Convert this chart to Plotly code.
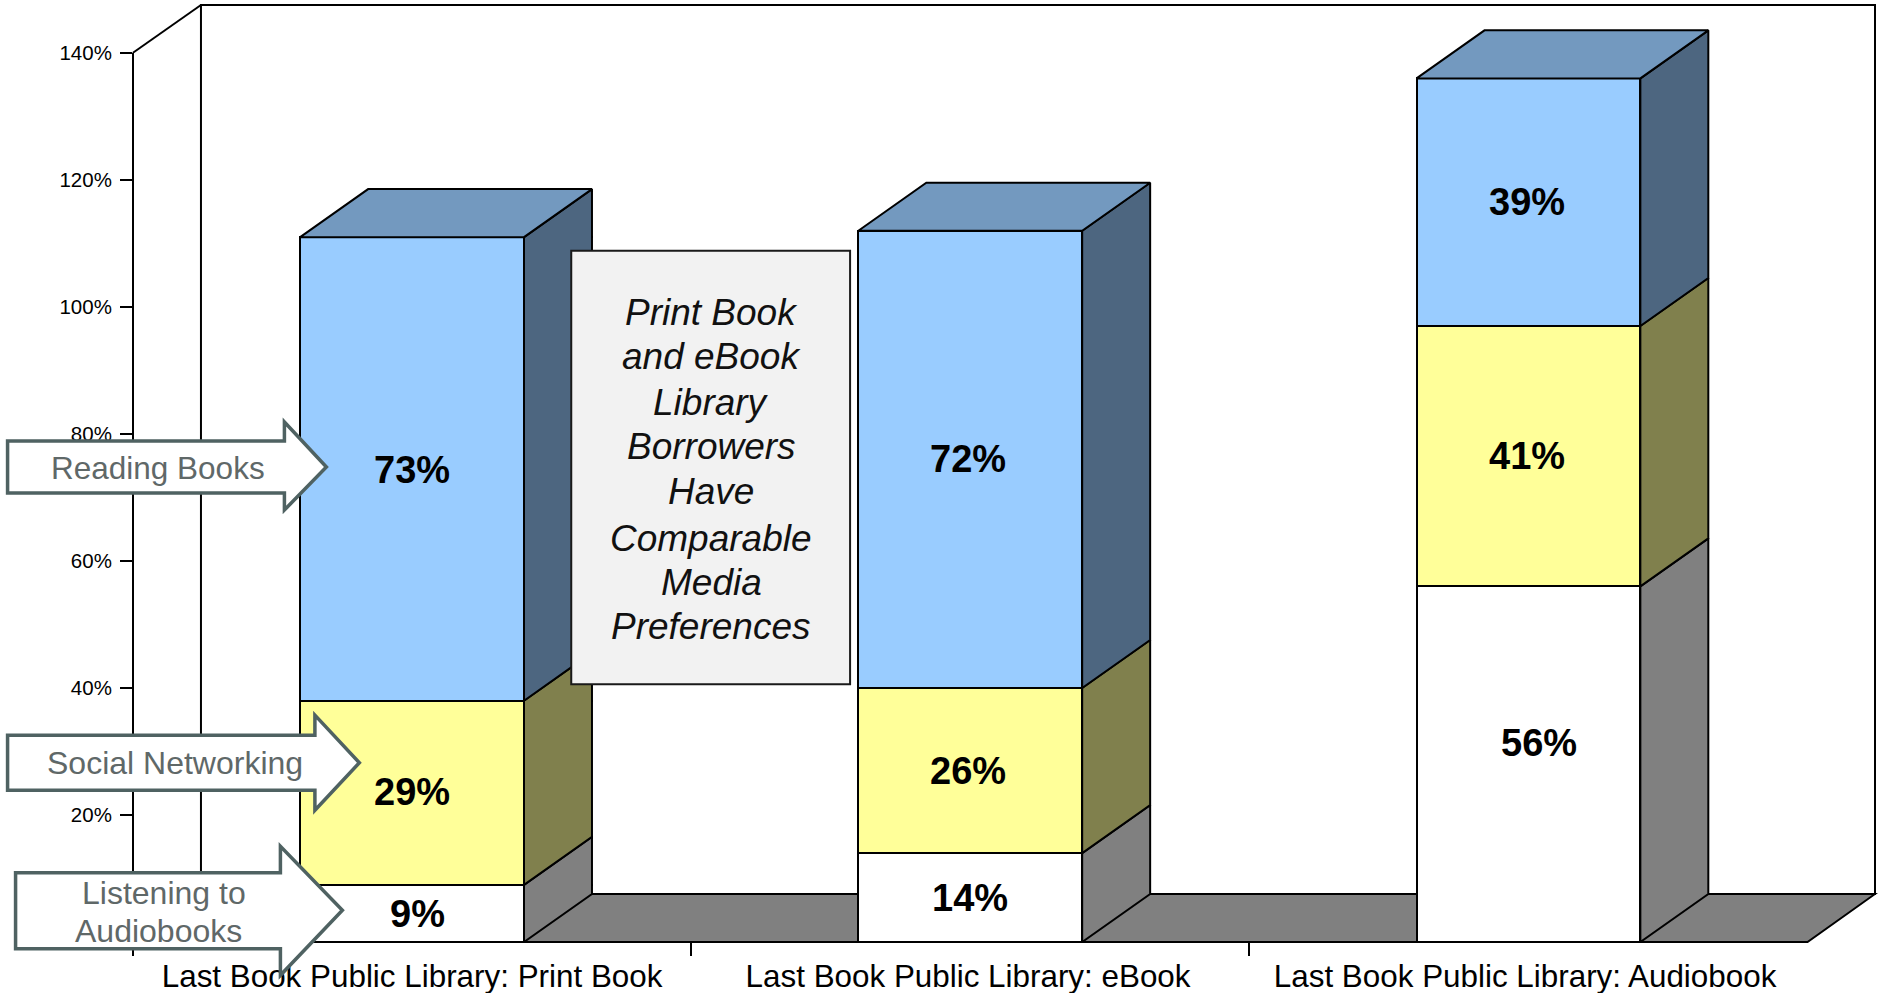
import plotly.graph_objects as go

categories = ["Last Book Public Library: Print Book",
              "Last Book Public Library: eBook",
              "Last Book Public Library: Audiobook"]
audiobooks = [9, 14, 56]
social = [29, 26, 41]
reading = [73, 72, 39]
y_ticks = [20, 40, 60, 80, 100, 120, 140]
y_ticktext = ["20%", "40%", "60%", "80%", "100%", "120%", "140%"]
series = [("Listening", audiobooks, "#FFFFFF", "#808080"),
          ("Social", social, "#FFFF99", "#80804D"),
          ("Reading", reading, "#99CCFF", "#4D6680")]
top_color = "#7399BF"
note_lines = ["Print Book", "and eBook", "Library", "Borrowers", "Have",
              "Comparable", "Media", "Preferences"]
# small hand-placed shifts of the value labels, in pixels: (bar, segment): (x, y)
label_nudge = {(0, 0): (5, 1), (2, 0): (11, -21), (0, 2): (0, 1), (0, 1): (0, -1),
               (1, 1): (-2, 0), (1, 2): (-2, 0), (2, 1): (-1, 0), (2, 2): (-1, 0)}

W, H = 1878, 993
L, R, T, B = 132.5, 1875.5, 5.3, 941.7
CAT = 558.5
BAR_W = 0.401
DX = 68 / CAT
Y_MAX = 147.56
DY = 48 / ((B - T) / Y_MAX)
FONT = "Liberation Sans"
BLACK = "#000000"


def px(x):
    return (x - L) / (R - L)


def py(y):
    return (B - y) / (B - T)


def poly(points):
    return "M " + " L ".join(f"{px(x):.5f},{py(y):.5f}" for x, y in points) + " Z"


fig = go.Figure()
base = [0, 0, 0]
for s, (name, vals, col, side) in enumerate(series):
    fig.add_trace(go.Bar(x=[0, 1, 2], y=vals, width=BAR_W, name=name,
                         marker=dict(color=col, line=dict(color=BLACK, width=2))))
    for i, v in enumerate(vals):
        xr = i + BAR_W / 2
        b, t = base[i], base[i] + v
        fig.add_trace(go.Scatter(
            x=[xr, xr + DX, xr + DX, xr, xr], y=[b, b + DY, t + DY, t, b],
            mode="lines", fill="toself", fillcolor=side,
            line=dict(color=BLACK, width=2), hoverinfo="skip"))
        nx, ny = label_nudge.get((i, s), (0, 0))
        fig.add_annotation(x=i, y=b + v / 2, xref="x", yref="y", text=f"<b>{v}%</b>",
                           showarrow=False, xshift=nx, yshift=-ny if ny else 0,
                           font=dict(family=FONT, size=38, color=BLACK))
        base[i] = t
for i, t in enumerate(base):
    xl, xr = i - BAR_W / 2, i + BAR_W / 2
    fig.add_trace(go.Scatter(
        x=[xl, xr, xr + DX, xl + DX, xl], y=[t, t, t + DY, t + DY, t],
        mode="lines", fill="toself", fillcolor=top_color,
        line=dict(color=BLACK, width=2), hoverinfo="skip"))

PAPER = dict(xref="paper", yref="paper")
shapes = []
floor_back = B - 48
wall_left = L + 68
# back wall, side-wall top edge and floor
shapes.append(dict(type="rect", x0=px(wall_left), x1=px(R), y0=py(floor_back), y1=py(T),
                   line=dict(color=BLACK, width=2), fillcolor="#FFFFFF", layer="below", **PAPER))
shapes.append(dict(type="line", x0=px(L), x1=px(wall_left), y0=py(53), y1=py(T),
                   line=dict(color=BLACK, width=2), layer="below", **PAPER))
shapes.append(dict(type="path", path=poly([(L, B), (1808, B), (R, floor_back), (wall_left, floor_back)]),
                   line=dict(color=BLACK, width=2), fillcolor="#808080", layer="below", **PAPER))
# value axis and category axis lines
shapes.append(dict(type="line", x0=px(L), x1=px(L), y0=py(53), y1=py(955),
                   line=dict(color=BLACK, width=2), layer="above", **PAPER))
shapes.append(dict(type="line", x0=px(L), x1=px(1808), y0=py(B), y1=py(B),
                   line=dict(color=BLACK, width=2), layer="above", **PAPER))
# note box
shapes.append(dict(type="rect", x0=px(571), x1=px(850), y0=py(251), y1=py(684),
                   fillcolor="#F2F2F2", line=dict(color="#1A1A1A", width=2), layer="above", **PAPER))

ARROW = "#4F6262"
arrows = [
    [(7, 441), (284, 441), (284, 422), (326, 467), (284, 510), (284, 493), (7, 493)],
    [(7, 735), (314.5, 735), (314.5, 715), (359, 762.5), (314.5, 810), (314.5, 790), (7, 790)],
    [(15, 872.5), (280, 872.5), (280, 846), (342, 910), (280, 975), (280, 948.5), (15, 948.5)],
]
for a in arrows:
    shapes.append(dict(type="path", path=poly(a), fillcolor="#FFFFFF",
                       line=dict(color=ARROW, width=3.5), layer="above", **PAPER))


def note(text, x, y, size, color=BLACK, italic=False):
    fig.add_annotation(xref="paper", yref="paper", x=px(x), y=py(y), text=text, showarrow=False,
                       xanchor="center", yanchor="middle",
                       font=dict(family=FONT, size=size, color=color,
                                 style="italic" if italic else "normal"))


note_y = [313, 357, 403, 447, 491, 538, 582, 626]
for line, y in zip(note_lines, note_y):
    note(line, 711, y, 37, "#111111", italic=True)
GRAY = "#5F6868"
note("Reading Books", 158, 468, 31.5, GRAY)
note("Social Networking", 175, 763, 32, GRAY)
note("Listening to", 164, 893, 32, GRAY)
note("Audiobooks", 158, 931, 32, GRAY)

fig.update_layout(
    width=W, height=H, barmode="stack", showlegend=False,
    margin=dict(l=L, r=W - R, t=T, b=H - B, pad=0, autoexpand=False),
    paper_bgcolor="#FFFFFF", plot_bgcolor="#FFFFFF", shapes=shapes,
    xaxis=dict(range=[-0.5, -0.5 + (R - L) / CAT], tickvals=[0, 0.996, 1.994], ticktext=categories,
               ticks="", showgrid=False, zeroline=False, showline=False, ticklabelstandoff=13,
               tickfont=dict(family=FONT, size=31.4, color=BLACK),
               minor=dict(tickvals=[-0.5, 0.5, 1.5], ticks="outside", ticklen=13, tickwidth=2,
                          tickcolor=BLACK, showgrid=False)),
    yaxis=dict(range=[0, Y_MAX], tickvals=y_ticks, ticktext=y_ticktext, ticks="outside",
               ticklen=12, tickwidth=2, tickcolor=BLACK, showgrid=False, zeroline=False,
               showline=False, ticklabelstandoff=4,
               tickfont=dict(family=FONT, size=20.5, color=BLACK)),
)

fig.write_html("out.html", config={"displayModeBar": False},
               post_script="document.body.style.margin='0';document.body.style.overflow='hidden';")
